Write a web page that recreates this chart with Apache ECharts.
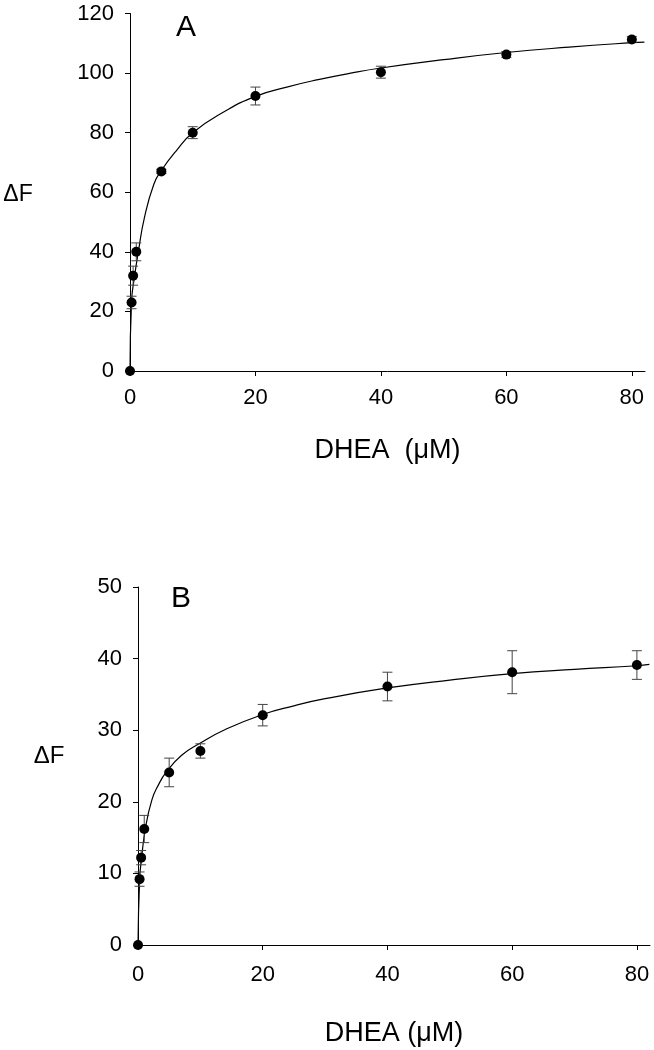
<!DOCTYPE html>
<html>
<head>
<meta charset="utf-8">
<script src="https://cdn.jsdelivr.net/npm/echarts@6/dist/echarts.min.js"></script>
<style>
  html, body { margin: 0; padding: 0; background: #fff; }
  #chart { width: 654px; height: 1050px; }
</style>
</head>
<body>
<div id="chart"></div>
<script>
// ---- Panel A data ----
const xA = [0, 0.25, 0.5, 1, 5, 10, 20, 40, 60, 80];
const yA = [0, 23, 32, 40, 67, 80, 92.3, 100.3, 106.2, 111.3];
const errA = [0, 2.1, 3.2, 3, 0.7, 2, 3, 2, 1, 1];
// fitted curve
const fitXA = [0, 0.25, 0.7, 1.35, 2.3, 3.8, 5, 7.4, 10, 15, 20, 25, 30, 35, 40, 50, 60, 70, 80, 82];
const fitYA = [0, 23.5, 31.4, 40.3, 51.5, 62.7, 67.3, 74, 80, 87, 92.2, 95.3, 97.8, 99.9, 101.7, 104.5, 106.9, 108.7, 110.2, 110.4];

// ---- Panel B data ----
const xB = [0, 0.25, 0.5, 1, 5, 10, 20, 40, 60, 80];
const yB = [0, 9.2, 12.2, 16.2, 24.1, 27.1, 32.1, 36.1, 38.1, 39.1];
const errB = [0, 1, 1, 1.9, 2, 1, 1.5, 2, 3, 2];
const fitXB = [0, 0.27, 0.6, 1.17, 2.24, 3.3, 4.5, 7, 10, 14, 20, 25, 30, 40, 50, 60, 70, 80, 82];
const fitYB = [0, 9.3, 12.3, 16.2, 20.3, 22.4, 24.1, 26.5, 28.2, 30.1, 32.2, 33.4, 34.4, 35.9, 37.0, 37.9, 38.5, 39.0, 39.2];

// ---- axes ticks ----
const xTicks = [0, 20, 40, 60, 80];
const yTicksA = [0, 20, 40, 60, 80, 100, 120];
const yTicksB = [0, 10, 20, 30, 40, 50];

const FONT = "'Liberation Sans', Arial, sans-serif";

function errRender(params, api) {
  const x = api.value(0), y = api.value(1), e = api.value(2);
  if (!e) return null;
  const top = api.coord([x, y + e]);
  const bot = api.coord([x, y - e]);
  const w = 5;
  const style = { stroke: '#444', lineWidth: 1 };
  return {
    type: 'group',
    children: [
      { type: 'line', shape: { x1: top[0], y1: top[1], x2: bot[0], y2: bot[1] }, style },
      { type: 'line', shape: { x1: top[0] - w, y1: top[1], x2: top[0] + w, y2: top[1] }, style },
      { type: 'line', shape: { x1: bot[0] - w, y1: bot[1], x2: bot[0] + w, y2: bot[1] }, style }
    ]
  };
}

function xAxisCfg(gridIndex, margin, nameGap) {
  return {
    type: 'value', gridIndex, min: 0, max: 82.1, interval: 20,
    name: gridIndex === 0 ? 'DHEA  (\u03bcM)' : 'DHEA (\u03bcM)',
    nameLocation: 'middle', nameGap,
    nameTextStyle: { fontFamily: FONT, fontSize: 27, color: '#000' },
    splitLine: { show: false },
    axisLine: { show: true, onZero: false, lineStyle: { color: '#000', width: 1 } },
    axisTick: { show: true, inside: false, length: 5, customValues: xTicks, lineStyle: { color: '#000' } },
    axisLabel: { customValues: xTicks, margin, fontFamily: FONT, fontSize: 22, color: '#000' }
  };
}
function yAxisCfg(gridIndex, max, interval, ticks) {
  return {
    type: 'value', gridIndex, min: 0, max, interval,
    splitLine: { show: false },
    axisLine: { show: true, onZero: false, lineStyle: { color: '#000', width: 1 } },
    axisTick: { show: true, inside: false, length: 5, customValues: ticks, lineStyle: { color: '#000' } },
    axisLabel: { customValues: ticks, margin: 16, fontFamily: FONT, fontSize: 22, color: '#000' }
  };
}

const chart = echarts.init(document.getElementById('chart'), null, { renderer: 'canvas' });
chart.setOption({
  animation: false,
  backgroundColor: '#fff',
  grid: [
    { left: 130, top: 13.5, width: 515, height: 357.5, outerBoundsMode: 'none', containLabel: false },
    { left: 138, top: 587, width: 512, height: 358, outerBoundsMode: 'none', containLabel: false }
  ],
  xAxis: [xAxisCfg(0, 16, 66), xAxisCfg(1, 19, 75)],
  yAxis: [yAxisCfg(0, 120, 20, yTicksA), yAxisCfg(1, 50, 10, yTicksB)],
  graphic: [
    { type: 'text', x: 18, y: 195, style: { text: '\u0394F', font: '23px ' + FONT, fill: '#000', align: 'center', verticalAlign: 'middle' } },
    { type: 'text', x: 49, y: 756, style: { text: '\u0394F', font: '24px ' + FONT, fill: '#000', align: 'center', verticalAlign: 'middle' } },
    { type: 'text', x: 186, y: 28, style: { text: 'A', font: '30px ' + FONT, fill: '#000', align: 'center', verticalAlign: 'middle' } },
    { type: 'text', x: 181, y: 599, style: { text: 'B', font: '30px ' + FONT, fill: '#000', align: 'center', verticalAlign: 'middle' } }
  ],
  series: [
    { type: 'line', xAxisIndex: 0, yAxisIndex: 0, data: fitXA.map((x, i) => [x, fitYA[i]]),
      showSymbol: false, smooth: 0.5, lineStyle: { color: '#000', width: 1.2 }, z: 2 },
    { type: 'custom', xAxisIndex: 0, yAxisIndex: 0, renderItem: errRender,
      data: xA.map((x, i) => [x, yA[i], errA[i]]), clip: false, z: 3 },
    { type: 'scatter', xAxisIndex: 0, yAxisIndex: 0, data: xA.map((x, i) => [x, yA[i]]),
      symbol: 'circle', symbolSize: 10, itemStyle: { color: '#000', opacity: 1 }, clip: false, z: 4 },

    { type: 'line', xAxisIndex: 1, yAxisIndex: 1, data: fitXB.map((x, i) => [x, fitYB[i]]),
      showSymbol: false, smooth: 0.5, lineStyle: { color: '#000', width: 1.2 }, z: 2 },
    { type: 'custom', xAxisIndex: 1, yAxisIndex: 1, renderItem: errRender,
      data: xB.map((x, i) => [x, yB[i], errB[i]]), clip: false, z: 3 },
    { type: 'scatter', xAxisIndex: 1, yAxisIndex: 1, data: xB.map((x, i) => [x, yB[i]]),
      symbol: 'circle', symbolSize: 10, itemStyle: { color: '#000', opacity: 1 }, clip: false, z: 4 }
  ]
});
</script>
</body>
</html>
